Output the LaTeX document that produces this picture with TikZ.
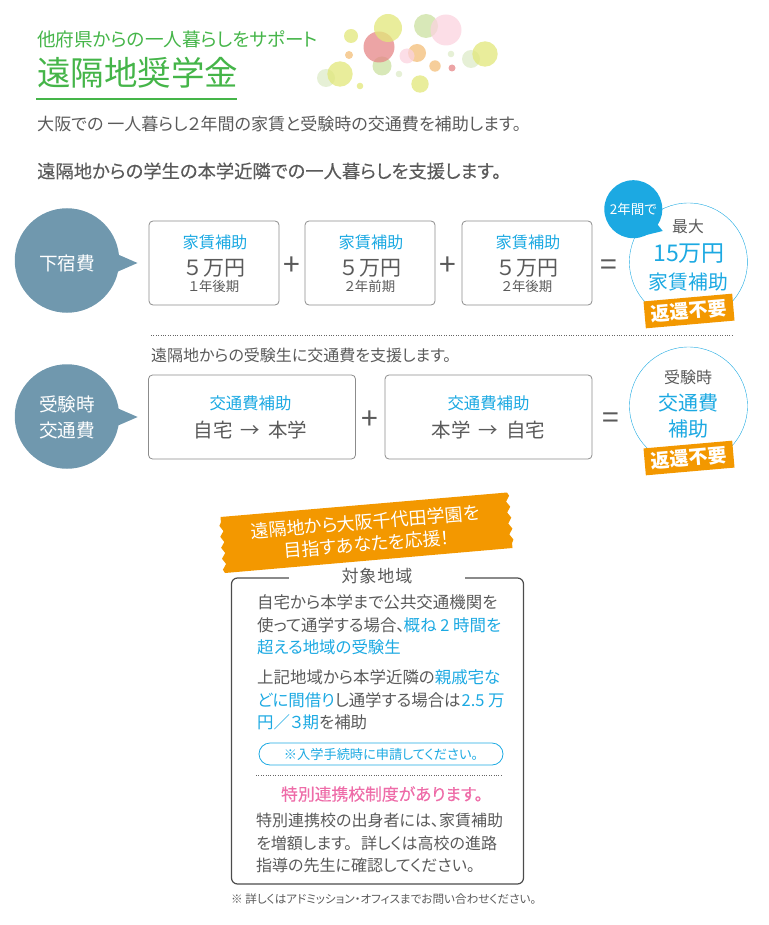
\documentclass[tikz,border=0pt]{standalone}
\usepackage{fontspec}
\setmainfont[RawFeature=+palt]{Noto Sans CJK JP}
\newfontfamily\semibold[RawFeature=+palt,FakeBold=0.2]{Noto Sans CJK JP}
\usepackage{xcolor}
\usetikzlibrary{decorations.pathmorphing}
\definecolor{leafgreen}{HTML}{45B549}
\definecolor{inkgray}{HTML}{5A5A5A}
\definecolor{skyblue}{HTML}{1CA9E2}
\definecolor{badgeorange}{HTML}{F39800}
\definecolor{slateblue}{HTML}{7098AE}
\definecolor{rosepink}{HTML}{EE6CA8}
\definecolor{dotyellow}{HTML}{E2E77A}
\definecolor{dotred}{HTML}{E58587}
\definecolor{dotgreen}{HTML}{CBE0A0}
\definecolor{dotpale}{HTML}{DDEBC8}
\definecolor{dotpink}{HTML}{FBD3DF}
\definecolor{dotorange}{HTML}{F3BE78}
\tikzset{
    sizebubble/.style={circle,minimum size=118pt,inner sep=0pt,draw=skyblue,thin,fill=white},
    topicdisc/.style={circle,minimum size=104.5pt,inner sep=0pt,fill=slateblue},
    disclabel/.style={text=white,inner sep=0pt,font=\fontsize{18.6}{26}\selectfont,align=center},
    aidbox/.style={draw=black!45,thick,rounded corners=4pt,minimum height=84pt,inner sep=0pt},
    badge/.style={fill=badgeorange,text=white,font=\bfseries\fontsize{19}{19}\selectfont,rotate=5,minimum width=89pt,minimum height=27pt,inner sep=0pt},
    sign/.style={text=inkgray,font=\fontsize{30}{30}\selectfont,inner sep=0pt},
    bluetext/.style={text=skyblue,inner sep=0pt},
    graytext/.style={text=inkgray,inner sep=0pt},
    bodyline/.style={text=inkgray,inner sep=0pt,anchor=west,font=\fontsize{16.45}{16.45}\selectfont},
}
\newcommand{\bl}[1]{\textcolor{skyblue}{#1}}
\begin{document}
\begin{tikzpicture}[x=1pt,y=-1pt]
\useasboundingbox (0,0) rectangle (768,925);
% header
\node[anchor=west,inner sep=0pt,text=leafgreen,font=\fontsize{18.6}{18.6}\selectfont] (support) at (37,39) {他府県からの一人暮らしをサポート};
\node[anchor=west,inner sep=0pt,text=leafgreen,font=\fontsize{33.5}{33.5}\selectfont] (title) at (37,73) {遠隔地奨学金};
\draw[leafgreen,line width=1.5pt] (36,99) -- (237,99);
\foreach \cx/\cy/\cr/\cc in {351/36/7/dotyellow,382/66/9.5/dotgreen,379/47/15.5/dotred,426/26/12/dotgreen,
    388/28/14/dotyellow,349/55/4/dotorange,446/30/15.5/dotpink,
    417/53/9/dotorange,407/56/7.5/dotpink,435/66/5.7/dotorange,451/54/3.3/dotpale,452/68/3.5/dotred,
    471/59/9/dotpale,485/54/12.7/dotyellow,326/78/9/dotpale,340/74/12.7/dotyellow,
    360/86/3.3/dotyellow,399/74/3.3/dotpale,420/84/8.7/dotyellow}
    \fill[\cc,opacity=0.75] (\cx,\cy) circle (\cr);
\node[anchor=west,graytext,font=\fontsize{17.05}{17.05}\selectfont] (lead) at (37,124) {大阪での 一人暮らし２年間の家賃と受験時の交通費を補助します。};
\node[anchor=west,graytext,font=\semibold\fontsize{18.3}{18.3}\selectfont] (support2) at (37,171) {遠隔地からの学生の本学近隣での一人暮らしを支援します。};
% rent row
\fill[slateblue] (110,251) -- (137.5,263) -- (110,275) -- cycle;
\node[topicdisc] (rent) at (67,260.5) {};
\node[disclabel] (rentlabel) at (67,263) {下宿費};
\foreach \bx/\term/\nm in {214/１年後期/a,370/２年前期/b,527/２年後期/c}{
    \node[aidbox,minimum width=130pt] (box\nm) at (\bx,263) {};
    \node[bluetext,font=\fontsize{16.2}{16.2}\selectfont] at (\bx+1,242) {家賃補助};
    \node[graytext,font=\fontsize{21}{21}\selectfont] at (\bx+1,268) {５\hspace{3pt}万円};
    \node[graytext,font=\fontsize{13.4}{13.4}\selectfont] at (\bx,286) {\term};
}
\node[sign] (plus1) at (292,266) {+};
\node[sign] (plus2) at (448,266) {+};
\node[sign] (equal1) at (609,268) {=};
\node[sizebubble] (rentsum) at (688.4,262) {};
\fill[skyblue] (650,215) -- (662.7,231) -- (638,237) -- cycle;
\node[circle,fill=skyblue,minimum size=58pt,inner sep=0pt,text=white,font=\fontsize{13.5}{13.5}\selectfont] (twoyears) at (633.3,209.2) {2年間で};
\node[graytext,font=\fontsize{15.8}{15.8}\selectfont] (most) at (688,227) {最大};
\node[bluetext,font=\fontsize{23}{23}\selectfont] (amount) at (689,254) {15万円};
\node[bluetext,font=\fontsize{19.8}{19.8}\selectfont] (rentaid) at (688.5,282) {家賃補助};
\node[badge] (nofee1) at (689,311) {返還不要};
\draw[dotted,black!60] (151,335) -- (733,335);
% travel row
\node[anchor=west,graytext,font=\fontsize{16}{16}\selectfont] (examnote) at (151,355) {遠隔地からの受験生に交通費を支援します。};
\fill[slateblue] (110,405) -- (137.7,417) -- (110,429) -- cycle;
\node[topicdisc] (travel) at (67,416.5) {};
\node[disclabel] (travellabel) at (67,417.5) {受験時\\交通費};
\node[aidbox,minimum width=207pt] (outbound) at (252,417) {};
\node[aidbox,minimum width=207pt] (inbound) at (488.5,417) {};
\node[bluetext,font=\fontsize{16.4}{16.4}\selectfont] at (250.5,403) {交通費補助};
\node[graytext,font=\fontsize{19.5}{19.5}\selectfont] at (250.5,430) {自宅\hspace{8pt}→\hspace{8pt}本学};
\node[bluetext,font=\fontsize{16.4}{16.4}\selectfont] at (488.5,403) {交通費補助};
\node[graytext,font=\fontsize{19.5}{19.5}\selectfont] at (488.5,430) {本学\hspace{8pt}→\hspace{8pt}自宅};
\node[sign] (plus3) at (370,420) {+};
\node[sign] (equal2) at (611,421) {=};
\node[sizebubble] (travelsum) at (688.5,406) {};
\node[graytext,font=\fontsize{16}{16}\selectfont] (examtime) at (688,377) {受験時};
\node[bluetext,font=\fontsize{20}{20}\selectfont] (travelfee) at (688,403) {交通費};
\node[bluetext,font=\fontsize{20}{20}\selectfont] (travelaid) at (688,429) {補助};
\node[badge] (nofee2) at (689,458) {返還不要};
% banner
\coordinate (bannerA) at (220.5,517);
\coordinate (bannerB) at (507,492.5);
\coordinate (bannerC) at (512.5,548);
\coordinate (bannerD) at (225,573);
\fill[badgeorange,decoration={snake,segment length=11pt,amplitude=1.8pt}] (bannerA) -- (bannerB)
    decorate {-- (bannerC)} -- (bannerD) decorate {-- (bannerA)} -- cycle;
\node[text=white,inner sep=0pt,rotate=4.7,align=center,font=\fontsize{18}{22}\selectfont] (cheer) at (366,533) {遠隔地から大阪千代田学園を\\目指すあなたを応援！};
% target area
\node[draw=black!70,line width=1.2pt,rounded corners=6pt,minimum width=292pt,minimum height=306pt,inner sep=0pt] (frame) at (377.5,731) {};
\node[fill=white,minimum width=176pt,inner sep=1pt,graytext,font=\fontsize{17}{17}\selectfont] (area) at (377,576) {対\hspace{1pt}象\hspace{1pt}地\hspace{1pt}域};
\node[bodyline] at (257,602.5) {自宅から本学まで公共交通機関を};
\node[bodyline] at (257,625) {使って通学する場合、\hspace{-1pt}\bl{概ね 2 時間を}};
\node[bodyline] at (257,647.5) {\bl{超える地域の受験生}};
\node[bodyline] at (257,677.5) {上記地域から本学近隣の\bl{親戚宅な}};
\node[bodyline] at (257,700) {\bl{どに間借り}し通学する場合は\hspace{1pt}\bl{2.5 万}};
\node[bodyline] at (257,722.5) {\bl{円／３期}を補助};
\node[draw=skyblue,thick,rounded corners=11pt,minimum width=244pt,minimum height=22pt,inner sep=0pt,text=skyblue,font=\fontsize{13.2}{13.2}\selectfont] (apply) at (381,754) {※入学手続時に申請してください。};
\draw[dotted,black!60] (256,775) -- (503,775);
\node[inner sep=0pt,text=rosepink,font=\semibold\fontsize{16.8}{16.8}\selectfont] (partner) at (382,794) {特別連携校制度があります。};
\node[bodyline,font=\fontsize{16}{16}\selectfont] at (256,820) {特別連携校の出身者には、家賃補助};
\node[bodyline,font=\fontsize{16}{16}\selectfont] at (256,843) {を増額します。\hspace{9pt}詳しくは高校の進路};
\node[bodyline,font=\fontsize{16}{16}\selectfont] at (256,865) {指導の先生に確認してください。};
\node[anchor=west,graytext,font=\fontsize{11.6}{11.6}\selectfont] (footnote) at (231,899.5) {※ 詳しくはアドミッション・オフィスまでお問い合わせください。};
\end{tikzpicture}
\end{document}
